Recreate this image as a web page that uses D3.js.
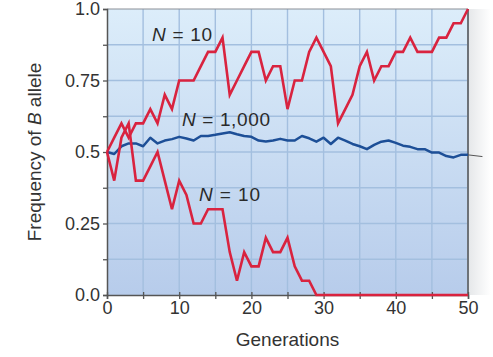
<!DOCTYPE html>
<html><head><meta charset="utf-8">
<script src="https://cdn.jsdelivr.net/npm/d3@7"></script>
<style>
html,body{margin:0;padding:0;background:#fff;}
svg{display:block;font-family:"Liberation Sans",Arial,Helvetica,sans-serif;}
</style></head>
<body><svg id="c" width="493" height="357"></svg>
<script>
const generations = d3.range(0, 51);
const upperN10 = [0.5,0.55,0.6,0.55,0.6,0.6,0.65,0.6,0.7,0.65,0.75,0.75,0.75,0.8,0.85,0.85,0.9,0.7,0.75,0.8,0.85,0.85,0.75,0.8,0.8,0.65,0.75,0.75,0.85,0.9,0.85,0.8,0.6,0.65,0.7,0.8,0.85,0.75,0.8,0.8,0.85,0.85,0.9,0.85,0.85,0.85,0.9,0.9,0.95,0.95,1.0];
const lowerN10 = [0.5,0.4,0.55,0.6,0.4,0.4,0.45,0.5,0.4,0.3,0.4,0.35,0.25,0.25,0.3,0.3,0.3,0.15,0.05,0.15,0.1,0.1,0.2,0.15,0.15,0.2,0.1,0.05,0.05,0,0,0,0,0,0,0,0,0,0,0,0,0,0,0,0,0,0,0,0,0,0];
const n1000 = [0.5,0.493,0.52,0.53,0.53,0.52,0.55,0.53,0.54,0.545,0.553,0.547,0.54,0.556,0.556,0.56,0.565,0.569,0.562,0.556,0.553,0.54,0.537,0.54,0.546,0.54,0.54,0.556,0.548,0.536,0.55,0.528,0.55,0.54,0.528,0.52,0.51,0.525,0.536,0.54,0.532,0.522,0.518,0.51,0.51,0.498,0.498,0.486,0.481,0.49,0.49];
const xTicks = [0,10,20,30,40,50];
const yTicks = [0,0.25,0.5,0.75,1.0];
const yTickLabels = ["0.0","0.25","0.5","0.75","1.0"];

const svg = d3.select("#c");
const L = 107, R = 468, T = 9, B = 295;
const x = d3.scaleLinear().domain([0,50]).range([L,R]);
const y = d3.scaleLinear().domain([0,1]).range([B,T]);

const defs = svg.append("defs");
const g1 = defs.append("linearGradient").attr("id","bg").attr("x1",0).attr("y1",0).attr("x2",0).attr("y2",1);
g1.append("stop").attr("offset","0%").attr("stop-color","#dcedfa");
g1.append("stop").attr("offset","100%").attr("stop-color","#b7cceb");
const g2 = defs.append("linearGradient").attr("id","sh").attr("x1",0).attr("y1",0).attr("x2",1).attr("y2",0);
g2.append("stop").attr("offset","0%").attr("stop-color","#e6e8ea");
g2.append("stop").attr("offset","100%").attr("stop-color","#ffffff");

svg.append("rect").attr("x",R+1).attr("y",T).attr("width",22).attr("height",B-T).attr("fill","url(#sh)");
svg.append("rect").attr("x",L).attr("y",T).attr("width",R-L).attr("height",B-T).attr("fill","url(#bg)");

const grid = svg.append("g").attr("stroke","#a3bfdf").attr("stroke-width",1.4);
d3.range(5,50,5).forEach(v=>{
  grid.append("line").attr("x1",x(v)).attr("x2",x(v)).attr("y1",T).attr("y2",B);
});
d3.range(0.125,1,0.125).forEach(v=>{
  grid.append("line").attr("x1",L).attr("x2",R).attr("y1",y(v)).attr("y2",y(v));
});

svg.append("line").attr("x1",L).attr("x2",R).attr("y1",T).attr("y2",T).attr("stroke","#8a8f96").attr("stroke-width",1);
svg.append("line").attr("x1",R).attr("x2",R).attr("y1",T).attr("y2",B).attr("stroke","#6d7278").attr("stroke-width",2);

const xAxis = d3.axisBottom(x).tickValues(d3.range(0,51,5)).tickSize(4).tickFormat(d=>xTicks.includes(d)?d:"");
const gx = svg.append("g").attr("transform",`translate(0,${B})`).call(xAxis);
gx.select(".domain").attr("stroke","#555").attr("stroke-width",1.5);
gx.selectAll(".tick line").attr("stroke","#555").attr("stroke-width",1.3).attr("y1",-3);
gx.selectAll(".tick text").attr("font-size",18).attr("fill","#333").attr("dy","0.95em").attr("y",2)
  .attr("font-family","Liberation Sans, Arial, sans-serif");

const yAxis = d3.axisLeft(y).tickValues(d3.range(0,1.001,0.125)).tickSize(4)
  .tickFormat(d=>{const i=yTicks.findIndex(t=>Math.abs(t-d)<1e-6);return i>=0?yTickLabels[i]:"";});
const gy = svg.append("g").attr("transform",`translate(${L},0)`).call(yAxis);
gy.select(".domain").attr("stroke","#555").attr("stroke-width",1.5);
gy.selectAll(".tick line").attr("stroke","#555").attr("stroke-width",1.3);
gy.selectAll(".tick text").attr("font-size",18).attr("fill","#333").attr("x",-7)
  .attr("font-family","Liberation Sans, Arial, sans-serif");

const line = d3.line().x((d,i)=>x(generations[i])).y(d=>y(d));
svg.append("path").datum(n1000).attr("d",line).attr("fill","none").attr("stroke","#1d4f97").attr("stroke-width",2.5).attr("stroke-linejoin","round");
svg.append("line").attr("x1",x(50)).attr("x2",x(52)).attr("y1",y(n1000[50])).attr("y2",y(n1000[50]-0.006)).attr("stroke","#555").attr("stroke-width",1);
svg.append("path").datum(lowerN10).attr("d",line).attr("fill","none").attr("stroke","#d9233f").attr("stroke-width",2.6).attr("stroke-linejoin","miter");
svg.append("path").datum(upperN10).attr("d",line).attr("fill","none").attr("stroke","#d9233f").attr("stroke-width",2.6).attr("stroke-linejoin","miter");

function nLabel(px,py,val,len){
  const t = svg.append("text").attr("x",px).attr("y",py).attr("font-size",19).attr("fill","#2a2a2a")
    .attr("textLength",len).attr("lengthAdjust","spacing");
  t.append("tspan").attr("font-style","italic").text("N");
  t.append("tspan").text(" = "+val);
}
nLabel(152,41,"10",60);
nLabel(182,126,"1,000",88);
nLabel(199,201,"10",61);

svg.append("text").attr("x",(L+R)/2).attr("y",346).attr("text-anchor","middle").attr("font-size",19).attr("fill","#333").text("Generations");
const yl = svg.append("text").attr("transform","translate(41,152) rotate(-90)").attr("text-anchor","middle").attr("font-size",19).attr("fill","#333");
yl.append("tspan").text("Frequency of ");
yl.append("tspan").attr("font-style","italic").text("B");
yl.append("tspan").text(" allele");
</script></body></html>
